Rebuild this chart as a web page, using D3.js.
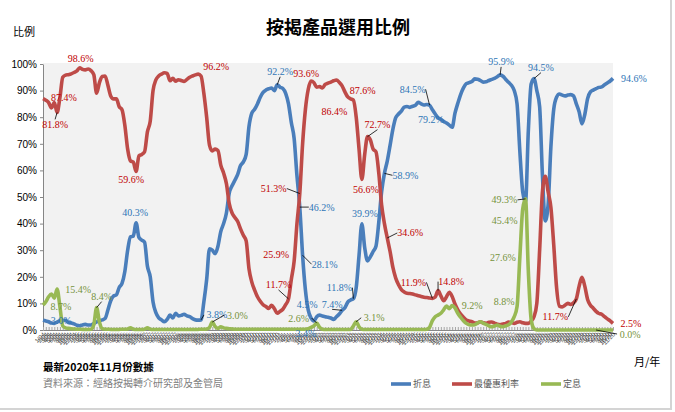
<!DOCTYPE html>
<html>
<head>
<meta charset="utf-8">
<script src="https://cdn.jsdelivr.net/npm/d3@7"></script>
<style>
  body { margin: 0; background: #fff; }
</style>
</head>
<body>
<div id="chart"></div>
<script>
// monthly categories, Jan 2004 .. Nov 2020
const months = [];
for (let yr = 2004; yr <= 2020; yr++) {
  for (let m = 1; m <= 12; m++) {
    if (yr === 2020 && m > 11) break;
    months.push(m + '/' + String(yr).slice(2));
  }
}

const yTicks = [0, 10, 20, 30, 40, 50, 60, 70, 80, 90, 100];

// 折息 (H-based)
const hibor = [
  3.7, 3.4, 3.1, 2.6, 2.5, 3.0, 3.5, 3.5, 3.6, 2.8,
  2.6, 2.3, 1.8, 1.6, 1.9, 2.1, 1.9, 1.9, 2.4, 3.0,
  3.5, 3.8, 4.3, 7.5, 11.0, 12.8, 13.2, 16.0, 17.5, 22.0,
  30.0, 35.0, 35.3, 40.3, 34.8, 33.8, 33.0, 24.0, 20.0, 10.5,
  6.5, 4.6, 3.8, 3.1, 4.0, 5.6, 4.5, 6.3, 5.3, 5.5,
  5.9, 5.3, 5.0, 4.3, 3.8, 3.7, 3.8, 10.5, 19.0, 30.5,
  30.0, 28.7, 31.5, 37.0, 40.0, 44.0, 51.5, 54.2, 56.3, 58.5,
  61.8, 63.2, 66.0, 76.5, 81.5, 83.0, 85.0, 87.5, 89.3, 90.2,
  90.7, 91.0, 90.0, 92.2, 91.3, 90.8, 89.0, 85.0, 78.0, 72.0,
  58.0, 46.2, 28.1, 15.0, 7.5, 4.5, 3.4, 5.0, 5.6, 5.3,
  5.0, 4.8, 4.5, 4.0, 5.0, 6.0, 7.4, 8.4, 10.5, 11.3,
  11.8, 16.0, 28.0, 39.9, 31.0, 26.0, 27.5, 29.5, 31.5, 40.5,
  52.0, 58.9, 63.5, 69.4, 75.5, 79.8, 81.2, 82.3, 83.8, 84.0,
  83.7, 84.1, 84.5, 85.6, 85.0, 84.6, 84.8, 84.5, 82.8, 81.2,
  79.8, 79.2, 78.4, 77.8, 77.0, 76.2, 81.5, 85.2, 88.5, 91.0,
  92.6, 93.0, 93.4, 94.4, 94.3, 93.8, 93.2, 93.3, 93.8, 94.2,
  94.6, 95.2, 95.9, 95.4, 94.2, 93.1, 92.0, 90.0, 85.0, 67.0,
  52.0, 48.2, 75.0, 92.5, 94.5, 90.0, 84.0, 58.0, 41.0, 47.0,
  69.0, 83.0, 87.5, 88.7, 88.3, 88.0, 88.3, 88.5, 88.0, 85.0,
  82.0, 77.5, 81.0, 87.0, 89.5, 90.2, 90.7, 91.2, 91.4, 92.2,
  92.9, 93.6, 94.6
];

// 最優惠利率 (P-based)
const prime = [
  87.0, 86.4, 85.5, 83.5, 85.5, 81.8, 87.4, 95.0, 95.8, 96.0,
  96.3, 96.8, 97.4, 98.6, 98.0, 97.8, 98.1, 97.5, 96.0, 89.0,
  93.0, 95.3, 95.5, 92.0, 88.0, 86.9, 86.9, 84.0, 82.8, 77.0,
  68.0, 63.6, 63.1, 59.6, 65.5, 66.0, 67.0, 74.5, 78.5, 90.0,
  94.0, 95.5, 96.2, 96.7, 96.5, 93.7, 94.6, 93.5, 94.1, 93.8,
  93.4, 94.2, 95.0, 95.5, 95.9, 96.2, 95.5, 89.0, 80.0, 69.5,
  67.3, 68.0, 67.5, 62.0, 59.0, 55.0, 47.5, 44.0, 42.3, 40.8,
  38.0, 35.6, 33.5, 23.0, 18.0, 15.0, 12.5, 10.8, 9.5, 8.8,
  8.1, 9.3, 8.0, 6.3, 7.0, 7.8, 9.5, 11.7, 19.0, 25.9,
  40.0, 51.3, 70.0, 83.0, 90.5, 93.6, 93.0, 91.3, 91.5, 91.0,
  92.3, 92.8, 93.2, 93.7, 94.0, 93.1, 91.8, 89.5, 87.6, 86.9,
  86.4, 80.0, 68.0, 56.6, 66.0, 72.7, 71.5, 68.0, 67.0, 59.0,
  47.0, 40.0, 34.6, 29.5, 23.5, 19.5, 17.0, 15.2, 14.3, 13.8,
  13.7, 13.5, 13.2, 12.9, 12.6, 12.3, 12.2, 12.0, 11.9, 12.4,
  14.8, 12.8, 11.0, 12.5, 14.2, 12.6, 9.8, 7.6, 6.0, 4.8,
  3.8, 3.4, 3.1, 2.6, 2.7, 3.1, 2.7, 2.5, 2.9, 3.0,
  2.6, 2.2, 2.0, 2.3, 2.5, 3.0, 2.8, 2.5, 2.9, 3.1,
  2.7, 2.5, 2.5, 3.4, 5.0, 10.0, 30.0, 52.0, 57.8, 52.0,
  46.0, 32.0, 16.0, 9.0, 8.7, 9.3, 10.0, 9.6, 10.2, 11.7,
  16.5, 19.8, 16.5, 11.5, 9.3, 8.2, 7.0, 6.2, 5.9, 5.0,
  4.2, 3.4, 2.5
];

// 定息 (fixed)
const fixed = [
  9.4, 10.6, 12.5, 13.5, 12.0, 15.4, 8.7, 1.5, 0.8, 0.6,
  0.5, 0.4, 0.3, 0.3, 0.2, 0.2, 0.2, 0.3, 2.0, 8.4,
  3.0, 0.5, 0.3, 0.3, 0.2, 0.2, 0.2, 0.2, 0.3, 0.3,
  0.4, 0.8, 0.3, 0.2, 0.2, 0.2, 0.3, 0.8, 0.3, 0.2,
  0.2, 0.2, 0.2, 0.2, 0.2, 0.2, 0.2, 0.2, 0.2, 0.2,
  0.2, 0.2, 0.2, 0.2, 0.2, 0.2, 0.3, 0.3, 0.4, 1.0,
  3.0, 1.3, 0.6, 1.2, 0.8, 0.6, 0.5, 0.4, 0.3, 0.3,
  0.3, 0.3, 0.3, 0.3, 0.3, 0.3, 0.3, 0.3, 0.3, 0.3,
  0.3, 0.3, 0.3, 0.3, 0.3, 0.3, 0.3, 0.3, 0.3, 0.3,
  0.3, 0.3, 0.3, 0.3, 0.5, 1.0, 1.5, 2.6, 1.0, 0.3,
  0.2, 0.2, 0.2, 0.2, 0.2, 0.2, 0.2, 0.2, 0.2, 0.2,
  1.5, 3.1, 1.2, 0.3, 0.2, 0.2, 0.2, 0.2, 0.2, 0.2,
  0.2, 0.2, 0.2, 0.2, 0.2, 0.2, 0.2, 0.2, 0.2, 0.2,
  0.2, 0.2, 0.2, 0.2, 0.2, 0.2, 0.3, 1.0, 3.5, 5.0,
  5.6, 6.3, 7.6, 9.0, 8.0, 9.2, 8.3, 6.3, 4.8, 3.5,
  2.5, 2.0, 1.9, 2.0, 2.6, 3.1, 2.6, 2.1, 1.6, 1.2,
  1.5, 1.9, 1.4, 1.2, 1.6, 2.0, 3.0, 5.0, 8.8, 27.6,
  45.4, 49.3, 22.0, 4.0, 0.5, 0.0, 0.0, 0.0, 0.0, 0.0,
  0.0, 0.0, 0.0, 0.0, 0.0, 0.0, 0.0, 0.0, 0.0, 0.0,
  0.0, 0.0, 0.0, 0.0, 0.0, 0.0, 0.0, 0.0, 0.0, 0.0,
  0.0, 0.0, 0.0
];

// which points carry a data label, and where the label sits relative to the point
const hiborLabels = [
  {i: 5, dx: 4, dy: -2}, {i: 33, dx: -1, dy: -10}, {i: 56, dx: 16, dy: -5, lead: 1},
  {i: 83, dx: 3, dy: -13, lead: 1}, {i: 91, dx: 22, dy: 0, lead: 1}, {i: 92, dx: 22, dy: 9, lead: 1},
  {i: 95, dx: -4, dy: -14}, {i: 96, dx: -8, dy: 13}, {i: 106, dx: -10, dy: -6, lead: 1},
  {i: 110, dx: -14, dy: -11, lead: 1}, {i: 113, dx: 3, dy: -10}, {i: 121, dx: 21, dy: 2, lead: 1},
  {i: 137, dx: -17, dy: -16, lead: 1}, {i: 141, dx: -10, dy: 0}, {i: 162, dx: 1, dy: -13, lead: 1},
  {i: 174, dx: 7, dy: -11, lead: 1}, {i: 202, dx: 21, dy: 0}
];
const primeLabels = [
  {i: 6, dx: 4, dy: 0}, {i: 5, dx: -2, dy: 12, lead: 1}, {i: 13, dx: 1, dy: -9},
  {i: 33, dx: -5, dy: 8}, {i: 55, dx: 18, dy: -8}, {i: 95, dx: -5, dy: -8},
  {i: 110, dx: -19, dy: 11}, {i: 108, dx: 15, dy: -6}, {i: 115, dx: 10, dy: -12, lead: 1},
  {i: 113, dx: 4, dy: 10}, {i: 91, dx: -26, dy: -5, lead: 1}, {i: 89, dx: -18, dy: -7},
  {i: 87, dx: -10, dy: -14, lead: 1}, {i: 122, dx: 23, dy: -5, lead: 1}, {i: 138, dx: -19, dy: -16, lead: 1},
  {i: 140, dx: 13, dy: -9, lead: 1}, {i: 189, dx: -21, dy: 18, lead: 1}, {i: 202, dx: 18, dy: 0}
];
const fixedLabels = [
  {i: 5, dx: 21, dy: 0}, {i: 6, dx: 1, dy: 0}, {i: 19, dx: 5, dy: -11, lead: 1},
  {i: 60, dx: 25, dy: -7, lead: 1}, {i: 97, dx: -18, dy: -5, lead: 1}, {i: 111, dx: 18, dy: -4, lead: 1},
  {i: 145, dx: 20, dy: 0}, {i: 168, dx: -13, dy: -5}, {i: 169, dx: -17, dy: 1},
  {i: 170, dx: -18, dy: 11}, {i: 171, dx: -21, dy: 1, lead: 1}, {i: 196, dx: 34, dy: 4, lead: 1}
];

const series = [
  {name: '折息', values: hibor, color: '#4a7ebb', text: '#2e75b6', labels: hiborLabels},
  {name: '最優惠利率', values: prime, color: '#be4b48', text: '#c00000', labels: primeLabels},
  {name: '定息', values: fixed, color: '#98b954', text: '#76923c', labels: fixedLabels}
];

const W = 675, H = 412;
const plot = {left: 43, right: 613, top: 64, bottom: 330};

const svg = d3.select('#chart').append('svg')
  .attr('width', W).attr('height', H)
  .style('font-family', 'Liberation Sans, Arial, sans-serif');

// outer frame
svg.append('rect')
  .attr('x', -1).attr('y', -1).attr('width', 672).attr('height', 410)
  .attr('fill', 'none').attr('stroke', '#d4d4d4').attr('stroke-width', 2);

// plot background
svg.append('rect')
  .attr('x', plot.left).attr('y', plot.top - 1)
  .attr('width', plot.right - plot.left).attr('height', plot.bottom - plot.top + 1)
  .attr('fill', '#f2f2f2');

const x = d3.scalePoint().domain(months).range([plot.left, plot.right]);
const y = d3.scaleLinear().domain([0, 100]).range([plot.bottom, plot.top]);

// y axis
const yAxis = svg.append('g')
  .attr('transform', `translate(${plot.left},0)`)
  .call(d3.axisLeft(y).tickValues(yTicks).tickFormat(d => d + '%').tickSize(3).tickSizeOuter(0));
yAxis.select('.domain').attr('stroke', '#868686');
yAxis.selectAll('.tick line').attr('stroke', '#868686');
yAxis.selectAll('text').attr('font-size', 10).attr('fill', '#000').attr('x', -6);

// x axis, one tick per month, labels rotated
const xAxis = svg.append('g')
  .attr('transform', `translate(0,${plot.bottom})`)
  .call(d3.axisBottom(x).tickSizeInner(-3).tickSizeOuter(0));
xAxis.select('.domain').attr('stroke', '#868686');
xAxis.selectAll('.tick line').attr('stroke', '#a6a6a6');
xAxis.selectAll('text')
  .attr('font-size', 6)
  .attr('fill', '#404040')
  .attr('text-anchor', 'end')
  .attr('y', 0).attr('dy', 0)
  .attr('transform', 'translate(2,5) rotate(-45)');

// lines
const line = d3.line()
  .x((d, i) => x(months[i]))
  .y(d => y(d))
  .curve(d3.curveMonotoneX);

svg.append('g').selectAll('path')
  .data(series)
  .join('path')
    .attr('d', d => line(d.values))
    .attr('fill', 'none')
    .attr('stroke', d => d.color)
    .attr('stroke-width', 3.6)
    .attr('stroke-linejoin', 'round');

// data labels and their leader lines
const fmt = d3.format('.1f');
series.forEach(s => {
  const g = svg.append('g');
  s.labels.forEach(l => {
    const px = x(months[l.i]), py = y(s.values[l.i]);
    const lx = px + l.dx, ly = py + l.dy;
    if (l.lead) {
      let ex, ey;
      if (Math.abs(l.dx) >= 12) { ex = lx - Math.sign(l.dx) * 13; ey = ly; }
      else { ex = lx; ey = ly - Math.sign(l.dy) * 5; }
      g.append('line')
        .attr('x1', px).attr('y1', py).attr('x2', ex).attr('y2', ey)
        .attr('stroke', '#000').attr('stroke-width', 0.8);
    }
    g.append('text')
      .attr('x', lx).attr('y', ly).attr('dy', '0.35em')
      .attr('text-anchor', 'middle')
      .attr('font-family', 'Liberation Serif, Times New Roman, serif')
      .attr('font-size', 10)
      .attr('fill', s.text)
      .text(fmt(s.values[l.i]) + '%');
  });
});

// titles and notes
svg.append('text')
  .attr('x', 338).attr('y', 34).attr('text-anchor', 'middle')
  .attr('font-family', 'Noto Sans CJK TC, sans-serif')
  .attr('font-size', 18).attr('font-weight', 'bold')
  .text('按揭產品選用比例');

svg.append('text')
  .attr('x', 13).attr('y', 36)
  .attr('font-family', 'Noto Sans CJK TC, sans-serif')
  .attr('font-size', 11)
  .text('比例');

svg.append('text')
  .attr('x', 634).attr('y', 366)
  .attr('font-family', 'Noto Sans CJK TC, sans-serif')
  .attr('font-size', 11)
  .text('月/年');

svg.append('text')
  .attr('x', 43).attr('y', 371)
  .attr('font-family', 'Noto Sans CJK TC, sans-serif')
  .attr('font-size', 10.5).attr('font-weight', 'bold')
  .text('最新2020年11月份數據');

svg.append('text')
  .attr('x', 43).attr('y', 387)
  .attr('font-family', 'Noto Sans CJK TC, sans-serif')
  .attr('font-size', 10).attr('fill', '#7f7f7f')
  .text('資料來源：經絡按揭轉介研究部及金管局');

// legend
const legendX = [391, 452, 541];
const legend = svg.append('g').selectAll('g')
  .data(series)
  .join('g')
    .attr('transform', (d, i) => `translate(${legendX[i]},384)`);
legend.append('line')
  .attr('x1', 0).attr('x2', 20)
  .attr('stroke', d => d.color).attr('stroke-width', 3.6);
legend.append('text')
  .attr('x', 22).attr('dy', '0.35em')
  .attr('font-family', 'Noto Sans CJK TC, sans-serif')
  .attr('font-size', 9).attr('fill', '#595959')
  .text(d => d.name);
</script>
</body>
</html>
